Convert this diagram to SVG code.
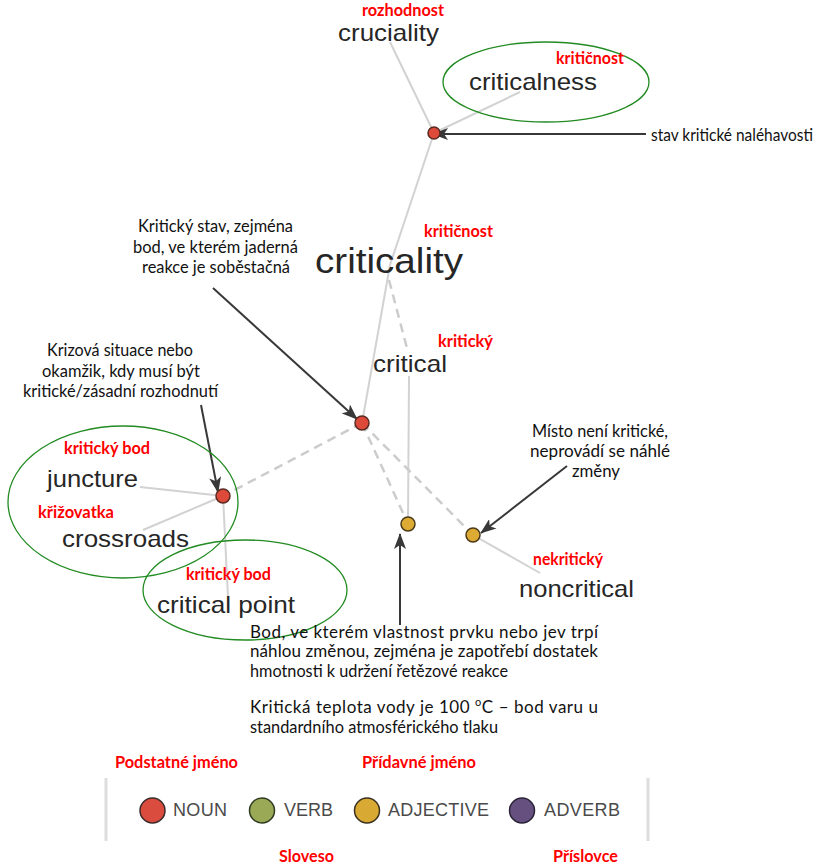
<svg xmlns="http://www.w3.org/2000/svg" width="829" height="867" viewBox="0 0 829 867">
<style>
.w{font-family:"Liberation Sans",Arial,sans-serif;fill:#262626;}
.r{font-family:Lato,"Open Sans",sans-serif;font-weight:bold;fill:#ff0000;font-size:17.5px;}
.a{font-family:Lato,"Open Sans",sans-serif;fill:#111;font-size:17px;}
.e{stroke:#d2d2d2;stroke-width:2;fill:none;}
.d{stroke:#cccccc;stroke-width:2.5;fill:none;stroke-dasharray:9 6;}
.g{fill:none;stroke:#228b22;stroke-width:1.3;}
.ar{stroke:#383838;stroke-width:2;fill:none;marker-end:url(#ah);}
.nr{fill:#dd4a3a;stroke:#5a2a22;stroke-width:1.5;}
.ny{fill:#ddaa33;stroke:#4a3a1a;stroke-width:1.5;}
.lg{font-family:"Liberation Sans",Arial,sans-serif;fill:#4a4a4a;font-size:18px;}
</style>
<defs>
<marker id="ah" viewBox="0 0 16 12" refX="15" refY="6" markerWidth="16" markerHeight="12" markerUnits="userSpaceOnUse" orient="auto">
<path d="M0,0 L16,6 L0,12 L4,6 z" fill="#383838"/>
</marker>
</defs>
<g id="connectors">
<line class="e" x1="390" y1="42" x2="434" y2="133"/>
<line class="e" x1="520" y1="92" x2="434" y2="133"/>
<line class="e" x1="434" y1="133" x2="390" y2="265"/>
<line class="e" x1="390" y1="265" x2="362" y2="423"/>
<line class="d" x1="389" y1="280" x2="408" y2="352"/>
<line class="e" x1="409" y1="376" x2="408" y2="524"/>
<line class="d" x1="362" y1="423" x2="223" y2="496"/>
<line class="d" x1="362" y1="423" x2="408" y2="524"/>
<line class="d" x1="362" y1="423" x2="473" y2="535"/>
<line class="e" x1="140" y1="487" x2="223" y2="496"/>
<line class="e" x1="143" y1="530" x2="223" y2="496"/>
<line class="e" x1="223" y1="496" x2="228" y2="597"/>
<line class="e" x1="473" y1="535" x2="540" y2="573"/>
<line class="ar" x1="646" y1="134" x2="433" y2="134"/>
<line class="ar" x1="213" y1="288" x2="357" y2="419"/>
<line class="ar" x1="201" y1="405" x2="218" y2="492"/>
<line class="ar" x1="400" y1="625" x2="400" y2="534"/>
<line class="ar" x1="567" y1="466" x2="481" y2="533"/>
</g>
<g id="ellipses">
<ellipse class="g" cx="546" cy="82" rx="103" ry="40"/>
<ellipse class="g" cx="123" cy="502" rx="115" ry="76"/>
<ellipse class="g" cx="245" cy="590" rx="102" ry="50"/>
</g>
<g id="node-criticalness-sense"><circle class="nr" cx="434" cy="133" r="6"/></g>
<g id="node-criticality-sense"><circle class="nr" cx="362" cy="423" r="7"/></g>
<g id="node-juncture-sense"><circle class="nr" cx="223" cy="496" r="7"/></g>
<g id="node-critical-adj1"><circle class="ny" cx="408" cy="524" r="7"/></g>
<g id="node-critical-adj2"><circle class="ny" cx="473" cy="535" r="7"/></g>
<g id="words">
<text class="w" x="338" y="41" font-size="24" textLength="101" lengthAdjust="spacingAndGlyphs">cruciality</text>
<text class="w" x="469" y="90" font-size="24" textLength="128" lengthAdjust="spacingAndGlyphs">criticalness</text>
<text class="w" x="315" y="273" font-size="35" textLength="148" lengthAdjust="spacingAndGlyphs">criticality</text>
<text class="w" x="373" y="372" font-size="24" textLength="74" lengthAdjust="spacingAndGlyphs">critical</text>
<text class="w" x="47" y="487" font-size="24" textLength="91" lengthAdjust="spacingAndGlyphs">juncture</text>
<text class="w" x="62" y="547" font-size="24" textLength="127" lengthAdjust="spacingAndGlyphs">crossroads</text>
<text class="w" x="157" y="613" font-size="24" textLength="138" lengthAdjust="spacingAndGlyphs">critical point</text>
<text class="w" x="519" y="597" font-size="24" textLength="115" lengthAdjust="spacingAndGlyphs">noncritical</text>
</g>
<g id="czech-labels">
<text class="r" x="362" y="16" textLength="82" lengthAdjust="spacingAndGlyphs">rozhodnost</text>
<text class="r" x="556" y="64" textLength="68" lengthAdjust="spacingAndGlyphs">kritičnost</text>
<text class="r" x="424" y="237" textLength="69" lengthAdjust="spacingAndGlyphs">kritičnost</text>
<text class="r" x="438" y="347" textLength="55" lengthAdjust="spacingAndGlyphs">kritický</text>
<text class="r" x="64" y="454" textLength="86" lengthAdjust="spacingAndGlyphs">kritický bod</text>
<text class="r" x="38" y="518" textLength="76" lengthAdjust="spacingAndGlyphs">křižovatka</text>
<text class="r" x="186" y="580" textLength="85" lengthAdjust="spacingAndGlyphs">kritický bod</text>
<text class="r" x="533" y="565" textLength="70" lengthAdjust="spacingAndGlyphs">nekritický</text>
<text class="r" x="115" y="768" textLength="123" lengthAdjust="spacingAndGlyphs">Podstatné jméno</text>
<text class="r" x="362" y="768" textLength="114" lengthAdjust="spacingAndGlyphs">Přídavné jméno</text>
<text class="r" x="279" y="862" textLength="55" lengthAdjust="spacingAndGlyphs">Sloveso</text>
<text class="r" x="553" y="862" textLength="65" lengthAdjust="spacingAndGlyphs">Příslovce</text>
</g>
<g id="annotations">
<text class="a" x="651" y="141" font-size="15" textLength="162" lengthAdjust="spacingAndGlyphs">stav kritické naléhavosti</text>
<text class="a" x="138" y="232" textLength="155" lengthAdjust="spacingAndGlyphs">Kritický stav, zejména</text>
<text class="a" x="133" y="253" textLength="165" lengthAdjust="spacingAndGlyphs">bod, ve kterém jaderná</text>
<text class="a" x="142" y="273" textLength="148" lengthAdjust="spacingAndGlyphs">reakce je soběstačná</text>
<text class="a" x="47" y="356" textLength="146" lengthAdjust="spacingAndGlyphs">Krizová situace nebo</text>
<text class="a" x="42" y="377" textLength="158" lengthAdjust="spacingAndGlyphs">okamžik, kdy musí být</text>
<text class="a" x="23" y="397" textLength="195" lengthAdjust="spacingAndGlyphs">kritické/zásadní rozhodnutí</text>
<text class="a" x="532" y="437" textLength="136" lengthAdjust="spacingAndGlyphs">Místo není kritické,</text>
<text class="a" x="530" y="457" textLength="140" lengthAdjust="spacingAndGlyphs">neprovádí se náhlé</text>
<text class="a" x="572" y="477" textLength="48" lengthAdjust="spacingAndGlyphs">změny</text>
<text class="a" x="250" y="638" textLength="348">Bod, ve kterém vlastnost prvku nebo jev trpí</text>
<text class="a" x="250" y="657" textLength="348">náhlou změnou, zejména je zapotřebí dostatek</text>
<text class="a" x="250" y="677" textLength="258" lengthAdjust="spacingAndGlyphs">hmotnosti k udržení řetězové reakce</text>
<text class="a" x="250" y="713" textLength="348">Kritická teplota vody je 100 <tspan dy="-7" font-size="11">o</tspan><tspan dy="7">C –  bod varu u</tspan></text>
<text class="a" x="250" y="733" textLength="248" lengthAdjust="spacingAndGlyphs">standardního atmosférického tlaku</text>
</g>
<g id="legend">
<line x1="106" y1="778" x2="106" y2="841" stroke="#dddddd" stroke-width="3"/>
<line x1="648" y1="778" x2="648" y2="841" stroke="#dddddd" stroke-width="3"/>
<circle cx="152.5" cy="810.5" r="12.5" fill="#d94c3e" stroke="#3a2a2a" stroke-width="1.5"/>
<text class="lg" x="173" y="816" textLength="54">NOUN</text>
<circle cx="262" cy="810.5" r="12.5" fill="#9aa955" stroke="#2e3a22" stroke-width="1.5"/>
<text class="lg" x="284" y="816" textLength="49">VERB</text>
<circle cx="367" cy="810.5" r="12.5" fill="#d9aa33" stroke="#3a3020" stroke-width="1.5"/>
<text class="lg" x="388" y="816" textLength="101">ADJECTIVE</text>
<circle cx="522" cy="810.5" r="12.5" fill="#655080" stroke="#2a2236" stroke-width="1.5"/>
<text class="lg" x="544" y="816" textLength="76">ADVERB</text>
</g>
</svg>
